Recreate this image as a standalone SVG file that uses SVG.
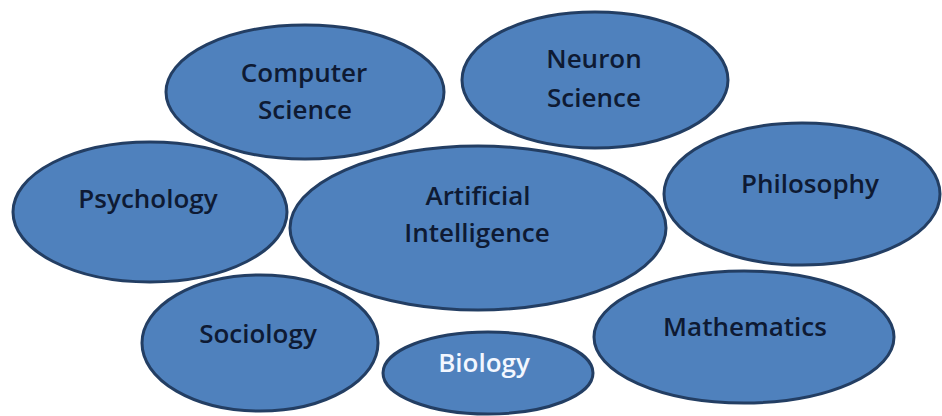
<svg xmlns="http://www.w3.org/2000/svg" width="942" height="416" viewBox="0 0 942 416">
  <style>
    .node ellipse { fill: #4F81BD; stroke: #233E63; stroke-width: 3; }
    .node text { font-family: "Open Sans", "Liberation Sans", sans-serif; font-size: 26px; font-weight: 600; fill: #0E1A33; text-anchor: middle; }
    .node text.light { fill: #F3F7FF; }
  </style>
  <rect width="942" height="416" fill="#FFFFFF"/>
  <g id="connectors"></g>
  <g id="computer-science" class="node">
    <ellipse cx="305" cy="92" rx="139" ry="67"/>
    <text x="304" y="82">Computer</text>
    <text x="305" y="119">Science</text>
  </g>
  <g id="neuron-science" class="node">
    <ellipse cx="595" cy="80" rx="133" ry="68"/>
    <text x="594" y="68">Neuron</text>
    <text x="594" y="107">Science</text>
  </g>
  <g id="psychology" class="node">
    <ellipse cx="150" cy="212" rx="137" ry="70"/>
    <text x="148" y="208">Psychology</text>
  </g>
  <g id="artificial-intelligence" class="node">
    <ellipse cx="478" cy="228" rx="188" ry="82"/>
    <text x="478" y="205">Artificial</text>
    <text x="477" y="242">Intelligence</text>
  </g>
  <g id="philosophy" class="node">
    <ellipse cx="802" cy="194" rx="138" ry="71"/>
    <text x="810" y="193">Philosophy</text>
  </g>
  <g id="sociology" class="node">
    <ellipse cx="260" cy="343" rx="118" ry="68"/>
    <text x="258" y="343">Sociology</text>
  </g>
  <g id="biology" class="node">
    <ellipse cx="488" cy="373" rx="105" ry="41"/>
    <text class="light" x="484" y="372">Biology</text>
  </g>
  <g id="mathematics" class="node">
    <ellipse cx="744" cy="337" rx="150" ry="66"/>
    <text x="745" y="336">Mathematics</text>
  </g>
</svg>
